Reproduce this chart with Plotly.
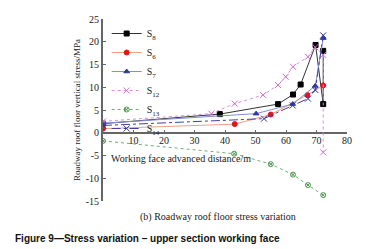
import plotly.graph_objects as go

# Data
s8_x = [0, 38.3, 57.4, 62.3, 64.8, 69.7, 72.2, 72.2]
s8_y = [2.0, 4.1, 6.3, 8.4, 10.6, 19.3, 6.3, 18.0]

s6_x = [0, 43.2, 55.0, 67.0, 72.2]
s6_y = [0.9, 1.9, 4.0, 8.3, 10.4]

s7_x = [0, 50.2, 62.2, 69.6, 72.2]
s7_y = [2.1, 4.2, 6.3, 10.3, 20.8]

s12_x = [0, 35.5, 43.2, 52.5, 57.4, 59.9, 62.3, 67.2, 69.6, 72.2, 72.2]
s12_y = [2.5, 4.2, 6.4, 8.3, 10.5, 12.3, 14.5, 16.7, 18.8, 17.1, -4.3]

s13_x = [0, 43.0, 55.0, 62.3, 67.2, 72.2]
s13_y = [-1.8, -4.6, -6.9, -9.2, -11.5, -13.7]

s14_x = [0, 52.8, 62.2, 67.2, 69.6, 72.2]
s14_y = [1.6, 3.1, 6.0, 7.5, 9.4, 21.4]

x_ticks = [10, 20, 30, 40, 50, 60, 70, 80]
y_ticks = [-15, -10, -5, 0, 5, 10, 15, 20, 25]

SERIF = "Liberation Serif"

fig = go.Figure()

def add(name, xs, ys, lcolor, mcolor, symbol, dash, msize=5):
    fig.add_trace(go.Scatter(
        x=xs, y=ys, name=name, mode="lines+markers",
        line=dict(color=lcolor, width=1, dash=dash),
        marker=dict(color=mcolor, symbol=symbol, size=msize,
                    line=dict(color=mcolor, width=1)),
    ))

add("S<sub>8</sub>", s8_x, s8_y, "#333333", "#000000", "square", "solid")
add("S<sub>6</sub>", s6_x, s6_y, "#f0a080", "#e8101a", "circle", "solid")
add("S<sub>7</sub>", s7_x, s7_y, "#8090d0", "#2838a8", "triangle-up", "solid")
add("S<sub>12</sub>", s12_x, s12_y, "#d890d0", "#d070c8", "x-thin-open", "dot", 6)
add("S<sub>13</sub>", s13_x, s13_y, "#70b070", "#509850", "circle-x-open", "dot")
add("S<sub>14</sub>", s14_x, s14_y, "#4040a8", "#3030a0", "x-thin-open", "dashdot", 6)

fig.update_layout(
    width=366, height=249,
    margin=dict(l=95, r=27, t=11, b=56, autoexpand=False),
    paper_bgcolor="white", plot_bgcolor="white",
    font=dict(family=SERIF, size=10, color="#222222"),
    showlegend=True,
    legend=dict(
        x=0.015, y=1.0, xanchor="left", yanchor="top",
        bgcolor="rgba(0,0,0,0)", font=dict(family=SERIF, size=10, color="#222"),
        tracegroupgap=0, itemwidth=30,
    ),
    xaxis=dict(
        range=[0, 80], tickvals=x_ticks, ticktext=[str(v) for v in x_ticks],
        showgrid=False, zeroline=False, showline=False,
        ticks="inside", ticklen=3, tickcolor="#666666",
        anchor="free", position=0.375, automargin=False,
        tickfont=dict(family=SERIF, size=10, color="#222"),
    ),
    yaxis=dict(
        range=[-15, 25], tickvals=y_ticks, ticktext=[str(v) for v in y_ticks],
        showgrid=False, showline=True, linecolor="#666666", linewidth=2,
        zeroline=True, zerolinecolor="#666666", zerolinewidth=2,
        ticks="inside", ticklen=3, tickcolor="#666666", automargin=False,
        tickfont=dict(family=SERIF, size=10, color="#222"),
        title=dict(text="Roadway roof floor vertical stress/MPa",
                   font=dict(family=SERIF, size=9, color="#222"), standoff=4),
    ),
)

fig.add_annotation(
    text="Working face advanced distance/m", xref="paper", yref="paper",
    x=0.025, y=0.235, xanchor="left", yanchor="middle", showarrow=False,
    font=dict(family=SERIF, size=10, color="#222"),
)
fig.add_annotation(
    text="(b) Roadway roof floor stress variation", xref="paper", yref="paper",
    x=0.47, y=-0.045, xanchor="center", yanchor="top", showarrow=False,
    font=dict(family=SERIF, size=10, color="#222"),
)
fig.add_annotation(
    text="<b>Figure 9\u2014Stress variation \u2013 upper section working face</b>",
    xref="paper", yref="paper", x=-0.37, y=-0.165, xanchor="left", yanchor="top",
    showarrow=False, font=dict(family="Liberation Sans", size=10, color="#111"),
)

fig.write_html("out.html")
